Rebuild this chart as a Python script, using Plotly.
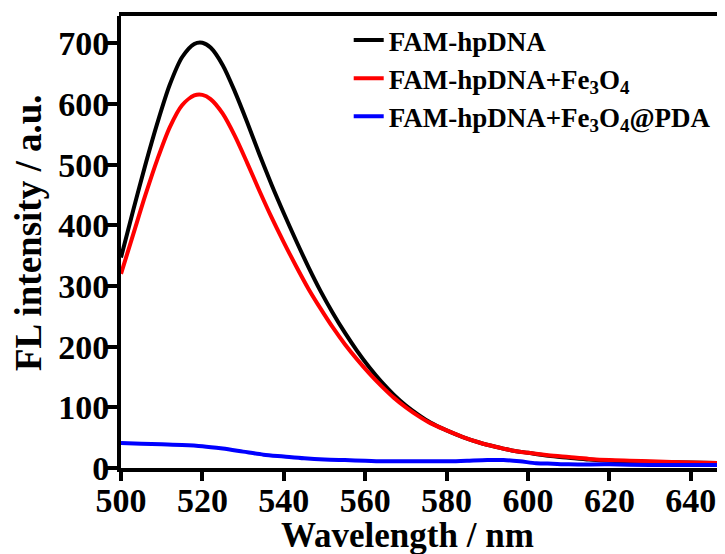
import plotly.graph_objects as go

# Wavelength (nm) and FL intensity (a.u.)
x_black = [500, 503, 506, 509, 512, 515, 518, 520, 522, 525, 528, 531, 534, 537, 540,
           543, 546, 549, 552, 555, 558, 561, 564, 567, 570, 573, 576, 580, 584, 588, 592,
           596, 600, 605, 610, 615, 620, 625, 630, 640, 650]
y_black = [347, 425, 500, 570, 632, 677, 699, 701, 693, 664, 620, 570, 517, 467, 420,
           375, 332, 292, 256, 223, 193, 166, 142, 121, 103, 88, 75, 62, 51, 42, 35,
           29, 25, 20, 17, 14, 12, 11, 10, 9, 8]

x_red = [500, 503, 506, 509, 512, 515, 518, 520, 522, 525, 528, 531, 534, 537, 540,
         543, 546, 549, 552, 555, 558, 561, 564, 567, 570, 573, 576, 580, 584, 588, 592,
         596, 600, 605, 610, 615, 620, 625, 630, 640, 650]
y_red = [320, 385, 450, 510, 562, 598, 614, 615, 608, 584, 547, 503, 457, 413, 372,
         333, 296, 263, 232, 204, 179, 156, 135, 116, 100, 86, 74, 62, 51, 42, 35,
         29, 25, 21, 18, 15, 13, 12, 11, 9, 8]

x_blue = [500, 505, 510, 515, 520, 525, 530, 535, 540, 545, 550, 555, 560, 565, 570,
          575, 580, 585, 590, 594, 598, 602, 606, 610, 620, 630, 640, 650]
y_blue = [41, 40, 39, 38, 36, 32, 27, 22, 19, 16, 14, 13, 12, 11, 11,
          11, 11, 12, 13, 13, 11, 8, 7, 6, 6, 5, 5, 5]

names = ["FAM-hpDNA", "FAM-hpDNA+Fe<sub>3</sub>O<sub>4</sub>",
         "FAM-hpDNA+Fe<sub>3</sub>O<sub>4</sub>@PDA"]
colors = ["#000000", "#ff0000", "#0000ff"]

x_ticks = [500, 520, 540, 560, 580, 600, 620, 640]
y_ticks = [0, 100, 200, 300, 400, 500, 600, 700]

FONT = "Liberation Serif"

fig = go.Figure()
for xs, ys, nm, c in [(x_black, y_black, names[0], colors[0]),
                      (x_red, y_red, names[1], colors[1]),
                      (x_blue, y_blue, names[2], colors[2])]:
    fig.add_trace(go.Scatter(x=xs, y=ys, mode="lines", name=nm,
                             line=dict(color=c, width=4, shape="spline", smoothing=0.8)))

fig.update_layout(
    width=717, height=546,
    margin=dict(l=113, r=0, t=8, b=86),
    paper_bgcolor="white", plot_bgcolor="white",
    font=dict(family=FONT, color="black"),
    showlegend=True,
    legend=dict(x=0.377, y=1.0, xanchor="left", yanchor="top",
                font=dict(family=FONT, size=27, color="black", weight="bold"),
                bgcolor="rgba(0,0,0,0)", tracegroupgap=0),
    xaxis=dict(range=[500, 648.4], tickvals=x_ticks, ticktext=[str(v) for v in x_ticks],
               showline=True, linewidth=4, linecolor="black", mirror=False,
               ticks="outside", ticklen=9, tickwidth=4, tickcolor="black",
               showgrid=False, zeroline=False, ticklabelstandoff=-10,
               tickfont=dict(family=FONT, size=34, color="black", weight="bold")),
    yaxis=dict(range=[0, 745], tickvals=y_ticks, ticktext=[str(v) for v in y_ticks],
               showline=True, linewidth=4, linecolor="black", mirror=False,
               ticks="outside", ticklen=10, tickwidth=4, tickcolor="black",
               showgrid=False, zeroline=False, ticklabelstandoff=-9,
               tickfont=dict(family=FONT, size=34, color="black", weight="bold")),
    annotations=[
        dict(text="Wavelength / nm", xref="paper", yref="paper",
             x=(407 - 121) / 604, y=(468 - 535) / 452, xanchor="center", yanchor="middle",
             showarrow=False, font=dict(family=FONT, size=35, color="black", weight="bold")),
        dict(text="FL intensity / a.u.", xref="paper", yref="paper", textangle=-90,
             x=(28 - 121) / 604, y=(468 - 233) / 452, xanchor="center", yanchor="middle",
             showarrow=False, font=dict(family=FONT, size=37, color="black", weight="bold")),
    ],
    shapes=[dict(type="line", xref="paper", yref="paper", x0=-0.0033, x1=1.0, y0=1.0045, y1=1.0045,
                 line=dict(color="black", width=4))],
)

fig.write_html("out.html")
